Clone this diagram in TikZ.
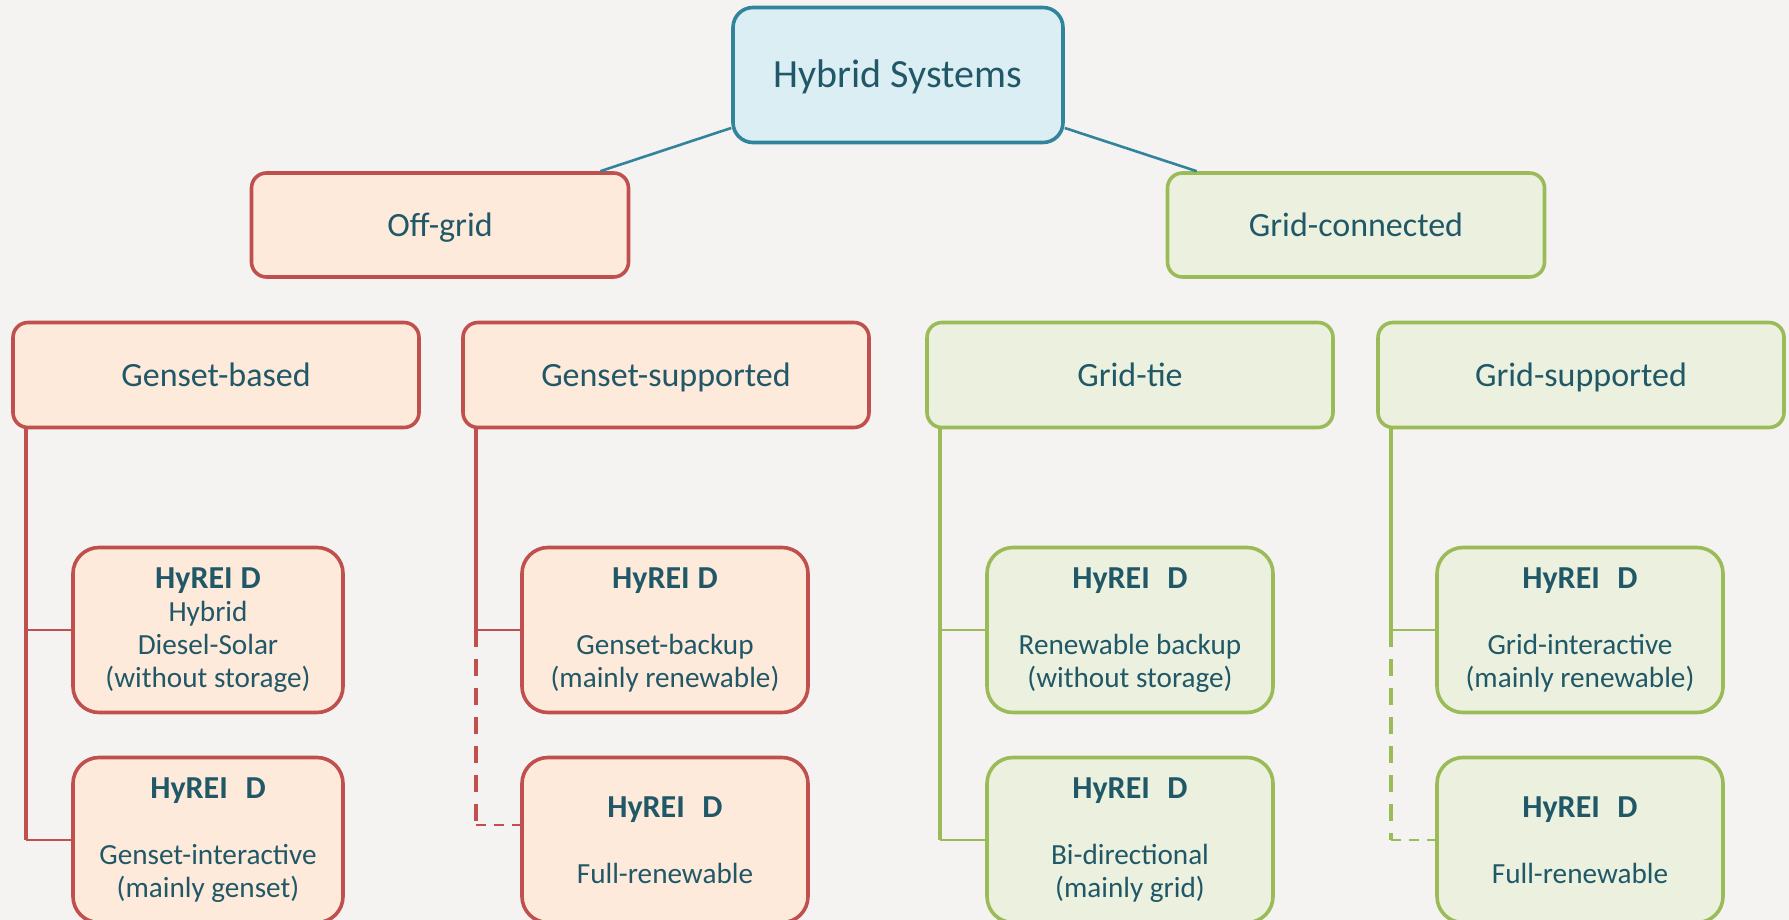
\documentclass[tikz,border=0pt]{standalone}
\usepackage{fontspec}
\setmainfont{Carlito}
\usetikzlibrary{positioning}

\definecolor{bgcol}{HTML}{F5F3F1}
\definecolor{txtcol}{HTML}{215868}
\definecolor{rootfill}{HTML}{DBEEF4}
\definecolor{rootline}{HTML}{31849B}
\definecolor{offfill}{HTML}{FDEADA}
\definecolor{offline}{HTML}{C0504D}
\definecolor{gridfill}{HTML}{EBF1DE}
\definecolor{gridline}{HTML}{9BBB59}

\newcommand{\hyreid}[1][0.25em]{{\fontsize{16}{16.5}\selectfont\textbf{HyREI\hspace{#1}D}}}

\tikzset{
  box/.style={draw, line width=1.8pt, align=center, text=txtcol, inner sep=0pt},
  rootbox/.style={box, rounded corners=10pt, fill=rootfill, draw=rootline,
    minimum width=165pt, minimum height=67.5pt, font=\fontsize{20}{23}\selectfont,
    text height=13pt, text depth=0pt},
  headbox/.style={box, rounded corners=7.5pt, minimum width=188.5pt, minimum height=52pt,
    font=\fontsize{17}{20}\selectfont, text height=11pt, text depth=0pt},
  subbox/.style={box, rounded corners=7.5pt, minimum width=203pt, minimum height=52.5pt,
    font=\fontsize{17}{20}\selectfont, text height=11pt, text depth=0pt},
  leafbox/.style={box, rounded corners=13pt, minimum width=143pt, minimum height=82.5pt,
    font=\fontsize{14.6}{16.5}\selectfont},
  offgrid/.style={fill=offfill, draw=offline},
  ongrid/.style={fill=gridfill, draw=gridline},
  trunk/.style={line width=1.8pt},
  twig/.style={line width=1.2pt},
  rootlink/.style={draw=rootline, line width=1.3pt}
}

\begin{document}
\begin{tikzpicture}[x=0.5pt, y=-0.5pt]

% background and size
\fill[bgcol] (0,0) rectangle (1789,920);
\useasboundingbox (0,0) rectangle (1789,920);

% top levels
\node[rootbox] (root) at (898,75) {Hybrid Systems};
\node[headbox, offgrid] (off) at (440,225) {Off-grid};
\node[headbox, ongrid] (grid) at (1356,225) {Grid-connected};

\draw[rootlink] ([yshift=-26.5pt]root.west) -- ([xshift=-15pt]off.north east);
\draw[rootlink] ([yshift=-26.5pt]root.east) -- ([xshift=15.5pt]grid.north west);

% second level
\node[subbox, offgrid] (gbased) at (216,375) {Genset-based};
\node[subbox, offgrid] (gsupp) at (666,375) {Genset-supported};
\node[subbox, ongrid] (gtie) at (1130,375) {Grid-tie};
\node[subbox, ongrid] (gsupport) at (1581,375) {Grid-supported};

% leaves
\node[leafbox, offgrid, minimum width=135pt] (gb1) at (208,630)
  {\hyreid\\ Hybrid\\ Diesel-Solar\\ (without storage)};
\node[leafbox, offgrid, minimum width=135pt] (gb2) at (208,840)
  {\hyreid[0.55em]\\[16.5pt] Genset-interactive\\ (mainly genset)};
\node[leafbox, offgrid] (gs1) at (665,630)
  {\hyreid\\[16.5pt] Genset-backup\\ (mainly renewable)};
\node[leafbox, offgrid] (gs2) at (665,840)
  {\hyreid[0.55em]\\[16.5pt] Full-renewable};
\node[leafbox, ongrid] (gt1) at (1130,630)
  {\hyreid[0.55em]\\[16.5pt] Renewable backup\\ (without storage)};
\node[leafbox, ongrid] (gt2) at (1130,840)
  {\hyreid[0.55em]\\[16.5pt] Bi-directional\\ (mainly grid)};
\node[leafbox, ongrid] (gp1) at (1580,630)
  {\hyreid[0.55em]\\[16.5pt] Grid-interactive\\ (mainly renewable)};
\node[leafbox, ongrid] (gp2) at (1580,840)
  {\hyreid[0.55em]\\[16.5pt] Full-renewable};

% branches
\coordinate (t1) at ([xshift=7.5pt]gbased.south west);
\draw[trunk, offline] (t1) -- (t1 |- gb2.west);
\draw[twig, offline] (t1 |- gb1.west) -- (gb1.west);
\draw[twig, offline] (t1 |- gb2.west) -- (gb2.west);

\coordinate (t2) at ([xshift=7.5pt]gsupp.south west);
\draw[trunk, offline] (t2) -- (t2 |- gs1.west);
\draw[trunk, offline, dash pattern=on 8.5pt off 6pt] (t2 |- gs1.west) -- ([yshift=7.5pt]t2 |- gs2.west);
\draw[twig, offline] (t2 |- gs1.west) -- (gs1.west);
\draw[twig, offline, dash pattern=on 5pt off 4pt] ([yshift=7.5pt]t2 |- gs2.west) -- ([yshift=7.5pt]gs2.west);

\coordinate (t3) at ([xshift=7.5pt]gtie.south west);
\draw[trunk, gridline] (t3) -- (t3 |- gt2.west);
\draw[twig, gridline] (t3 |- gt1.west) -- (gt1.west);
\draw[twig, gridline] (t3 |- gt2.west) -- (gt2.west);

\coordinate (t4) at ([xshift=7.5pt]gsupport.south west);
\draw[trunk, gridline] (t4) -- (t4 |- gp1.west);
\draw[trunk, gridline, dash pattern=on 8.5pt off 6pt] (t4 |- gp1.west) -- (t4 |- gp2.west);
\draw[twig, gridline] (t4 |- gp1.west) -- (gp1.west);
\draw[twig, gridline, dash pattern=on 5pt off 4pt] (t4 |- gp2.west) -- (gp2.west);

\end{tikzpicture}
\end{document}
